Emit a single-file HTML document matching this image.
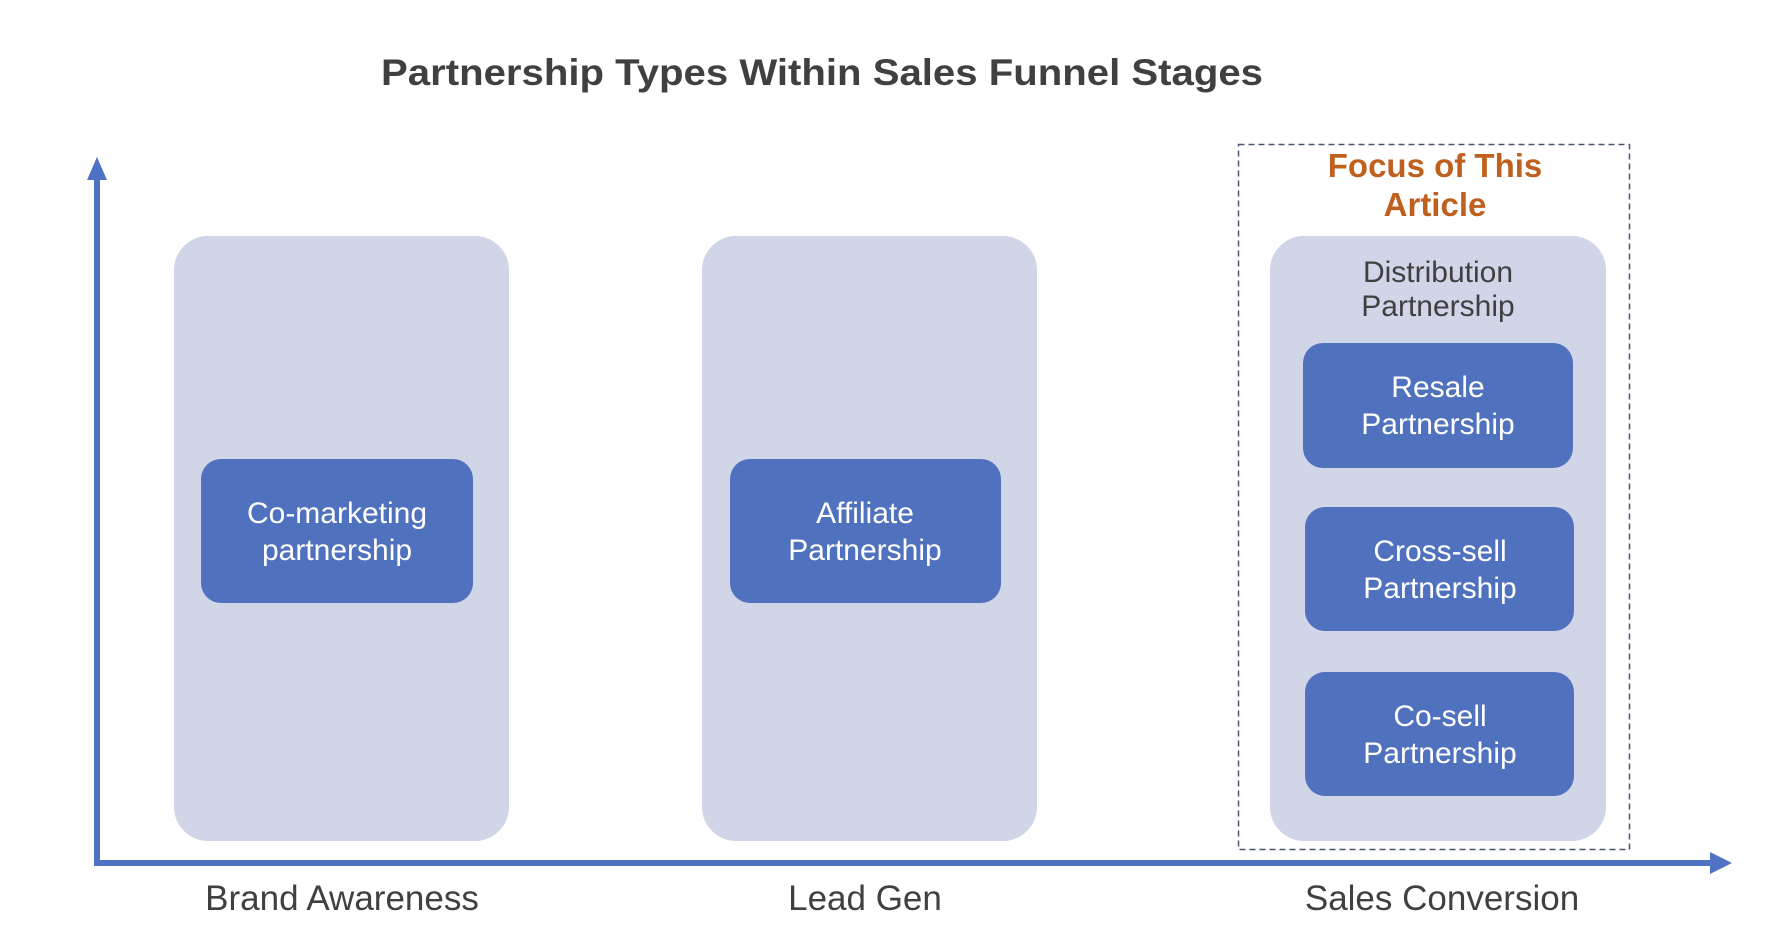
<!DOCTYPE html>
<html><head><meta charset="utf-8"><style>
html,body{margin:0;padding:0;background:#fff;}
svg{display:block;}
text{font-family:"Liberation Sans",sans-serif;}
</style></head><body>
<svg width="1772" height="938" viewBox="0 0 1772 938" xmlns="http://www.w3.org/2000/svg">
<text x="822" y="85" text-anchor="middle" font-size="37" font-weight="bold" fill="#404040" textLength="882" lengthAdjust="spacingAndGlyphs">Partnership Types Within Sales Funnel Stages</text>
<rect x="174" y="236" width="335" height="605" rx="34" fill="#d0d5e8"/>
<rect x="702" y="236" width="335" height="605" rx="34" fill="#d0d5e8"/>
<rect x="1270" y="236" width="336" height="605" rx="34" fill="#d0d5e8"/>
<rect x="1238.5" y="144.5" width="391" height="705" fill="none" stroke="#4a5570" stroke-width="1.5" stroke-dasharray="6,4"/>
<text x="1435" y="177" text-anchor="middle" font-size="33" font-weight="bold" fill="#c0601f">Focus of This</text>
<text x="1435" y="216" text-anchor="middle" font-size="33" font-weight="bold" fill="#c0601f">Article</text>
<text x="1438" y="282" text-anchor="middle" font-size="30" fill="#404040">Distribution</text>
<text x="1438" y="316" text-anchor="middle" font-size="30" fill="#404040">Partnership</text>
<g fill="#5072be">
<rect x="201" y="459" width="272" height="144" rx="20"/>
<rect x="730" y="459" width="271" height="144" rx="20"/>
<rect x="1303" y="343" width="270" height="125" rx="20"/>
<rect x="1305" y="507" width="269" height="124" rx="20"/>
<rect x="1305" y="672" width="269" height="124" rx="20"/>
</g>
<g fill="#fff" font-size="30" text-anchor="middle">
<text x="337" y="523">Co-marketing</text><text x="337" y="560">partnership</text>
<text x="865" y="523">Affiliate</text><text x="865" y="560">Partnership</text>
<text x="1438" y="397">Resale</text><text x="1438" y="434">Partnership</text>
<text x="1440" y="561">Cross-sell</text><text x="1440" y="598">Partnership</text>
<text x="1440" y="726">Co-sell</text><text x="1440" y="763">Partnership</text>
</g>
<path d="M97 170 V863 H1715" fill="none" stroke="#4f72c4" stroke-width="6"/>
<polygon points="97,157 87,180 107,180" fill="#4f72c4"/>
<polygon points="1732,863 1710,852 1710,874" fill="#4f72c4"/>
<g fill="#404040" font-size="35" text-anchor="middle">
<text x="342" y="910">Brand Awareness</text>
<text x="865" y="910">Lead Gen</text>
<text x="1442" y="910">Sales Conversion</text>
</g>
</svg>
</body></html>
